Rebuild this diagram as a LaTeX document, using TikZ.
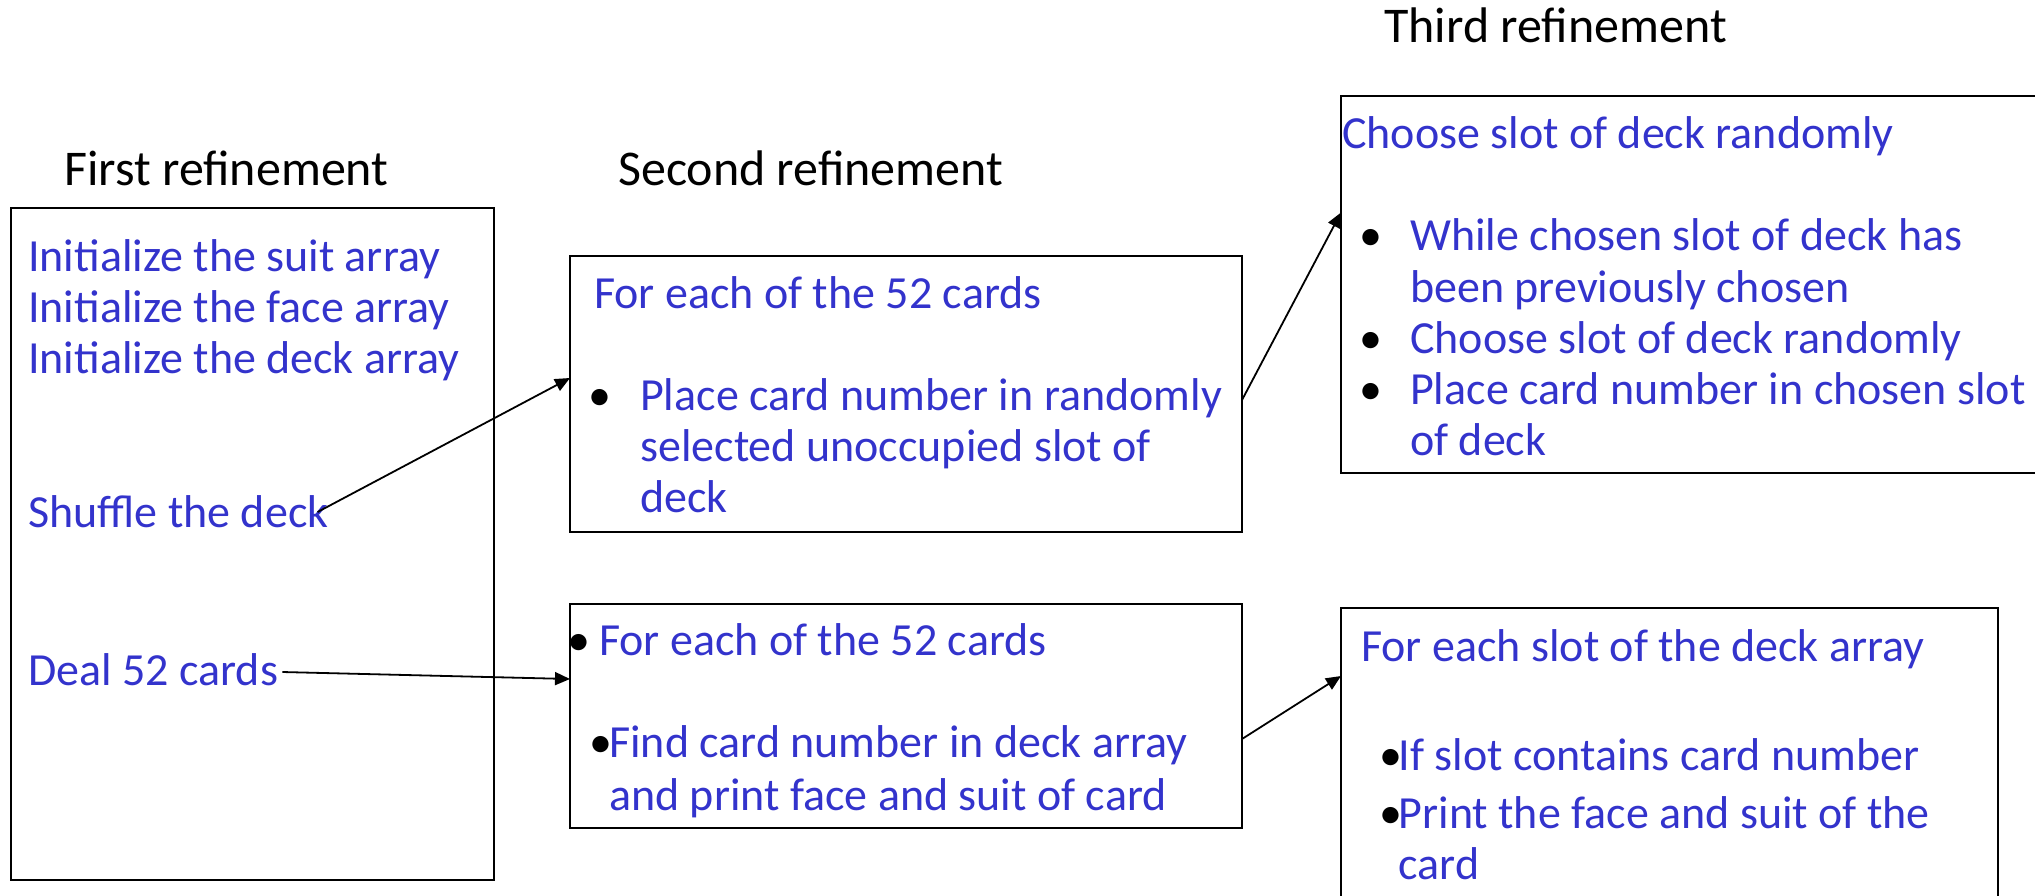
\documentclass[tikz,border=0pt]{standalone}
\usepackage{fontspec}
\setmainfont{Carlito}
\usetikzlibrary{arrows.meta}
\definecolor{txtblue}{RGB}{51,51,204}
\tikzset{
  box/.style={draw=black, line width=2pt, anchor=north west, inner sep=0pt, outer sep=0pt},
  txt/.style={anchor=base west, inner sep=0pt, text=txtblue, font=\fontsize{46}{51}\selectfont},
  bul/.style={anchor=base, inner sep=0pt, text=black, font=\fontsize{46}{51}\selectfont},
  ttl/.style={anchor=base west, inner sep=0pt, text=black, font=\fontsize{50}{60}\selectfont},
  conn/.style={draw=black, line width=1.8pt, -{Triangle[length=15pt,width=13pt]}}
}
\begin{document}
\begin{tikzpicture}[x=1pt,y=-1pt]
\useasboundingbox (0,0) rectangle (2035,895);
% titles
\node[ttl] (h1) at (64,185) {First refinement};
\node[ttl] (h2) at (618,185) {Second refinement};
\node[ttl] (h3) at (1384,42) {Third refinement};
% boxes
\node[box, minimum width=483pt, minimum height=672pt] (b1) at (11,208) {};
\node[box, minimum width=672pt, minimum height=276pt] (b2) at (570,256) {};
\node[box, minimum width=672pt, minimum height=224pt] (b3) at (570,604) {};
\node[box, minimum width=710pt, minimum height=377pt] (b4) at (1341,96) {};
\node[box, minimum width=657pt, minimum height=300pt] (b5) at (1341,608) {};
% box 1
\node[txt] (l11) at (28,271) {Initialize the suit array};
\node[txt] (l12) at (28,322) {Initialize the face array};
\node[txt] (l13) at (28,373.5) {Initialize the deck array};
\node[txt] (shuffle) at (28,527) {Shuffle the deck};
\node[txt] (deal) at (28,685) {Deal 52 cards};
% box 2
\node[txt] (l21) at (594,308) {For each of the 52 cards};
\node[bul] (p21) at (600,410) {\textbullet};
\node[txt] (l22) at (640,410) {Place card number in randomly};
\node[txt] (l23) at (640,461) {selected unoccupied slot of};
\node[txt] (l24) at (640,512) {deck};
% box 3
\node[bul] (p31) at (579,655) {\textbullet};
\node[txt] (l31) at (599,655) {For each of the 52 cards};
\node[bul] (p32) at (601,757) {\textbullet};
\node[txt] (l32) at (609,757) {Find card number in deck array};
\node[txt] (l33) at (609,810) {and print face and suit of card};
% box 4
\node[txt] (l41) at (1342,148) {Choose slot of deck randomly};
\node[bul] (p41) at (1371,250) {\textbullet};
\node[txt] (l42) at (1410,250) {While chosen slot of deck has};
\node[txt] (l43) at (1410,302) {been previously chosen};
\node[bul] (p42) at (1371,353) {\textbullet};
\node[txt] (l44) at (1410,353) {Choose slot of deck randomly};
\node[bul] (p43) at (1371,404) {\textbullet};
\node[txt] (l45) at (1410,404) {Place card number in chosen slot};
\node[txt] (l46) at (1410,455) {of deck};
% box 5
\node[txt] (l51) at (1361,661) {For each slot of the deck array};
\node[bul] (p51) at (1391,770) {\textbullet};
\node[txt] (l52) at (1398.5,770) {If slot contains card number};
\node[bul] (p52) at (1391,828) {\textbullet};
\node[txt] (l53) at (1398.5,828) {Print the face and suit of the};
\node[txt] (l54) at (1398.5,879) {card};
% connectors
\draw[conn] ([xshift=-11pt,yshift=15pt]shuffle.base east) -- ([yshift=16pt]b2.west);
\draw[conn] ([xshift=4pt,yshift=13pt]deal.base east) -- ([yshift=37pt]b3.west);
\draw[conn] ([yshift=-6pt]b2.east) -- ([yshift=72pt]b4.west);
\draw[conn] ([yshift=-23pt]b3.east) -- ([yshift=82pt]b5.west);
\end{tikzpicture}
\end{document}
